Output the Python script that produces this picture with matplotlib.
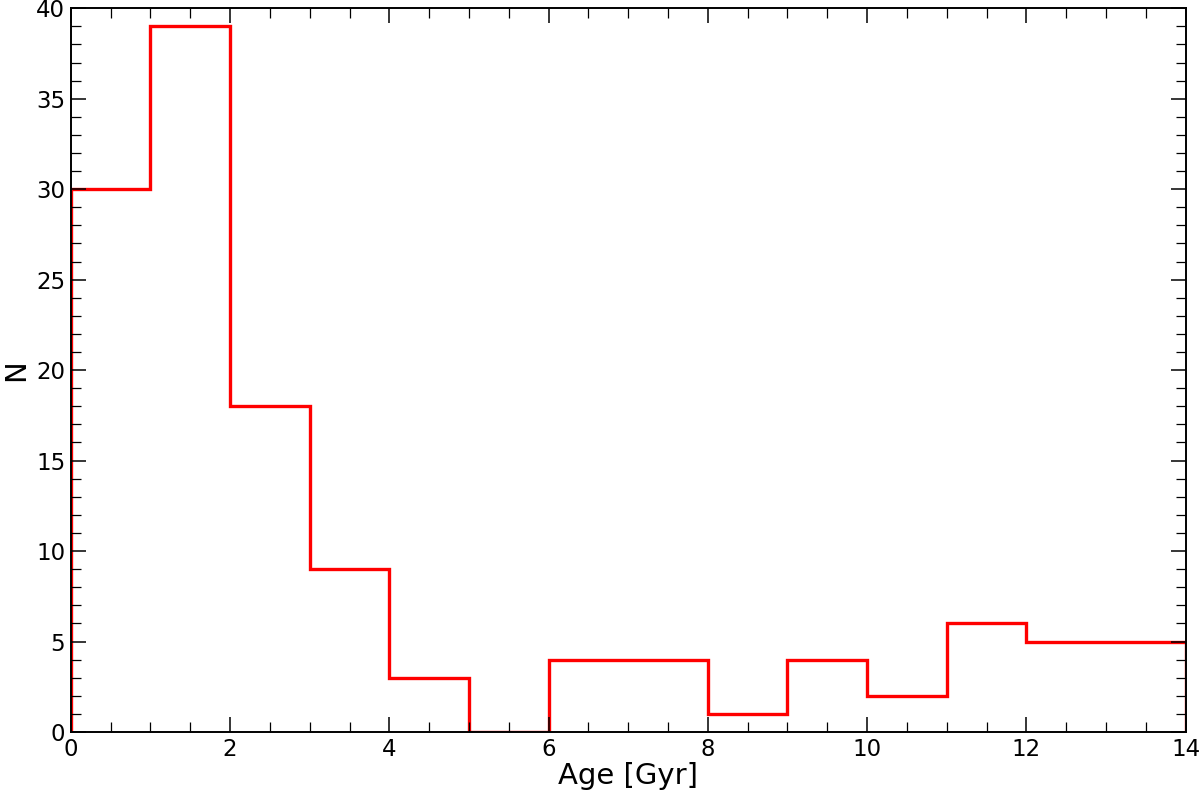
import matplotlib
matplotlib.use("Agg")
import matplotlib.pyplot as plt
import numpy as np
from matplotlib.ticker import MultipleLocator

bin_edges = list(range(0, 15))
counts = [30, 39, 18, 9, 3, 0, 4, 4, 1, 4, 2, 6, 5, 5]

fig = plt.figure(figsize=(12, 7.97), dpi=100)
ax = fig.add_axes([0.059, 0.0816, 0.929, 0.908])
ax.stairs(counts, bin_edges, color='red', linewidth=2.4, baseline=0)

ax.set_xlim(0, 14)
ax.set_ylim(0, 40)
ax.xaxis.set_major_locator(MultipleLocator(2))
ax.xaxis.set_minor_locator(MultipleLocator(0.5))
ax.yaxis.set_major_locator(MultipleLocator(5))
ax.yaxis.set_minor_locator(MultipleLocator(1))
ax.tick_params(which='both', direction='in', top=True, right=True, labelsize=16.5, pad=4)
ax.tick_params(which='major', length=11, width=1.1)
ax.tick_params(which='minor', length=7.5, width=0.9)
for s in ax.spines.values():
    s.set_linewidth(1.4)
ax.set_xlabel('Age [Gyr]', fontsize=21, labelpad=1)
ax.set_ylabel('N', fontsize=21, labelpad=4)

fig.savefig('out.png', dpi=100)
